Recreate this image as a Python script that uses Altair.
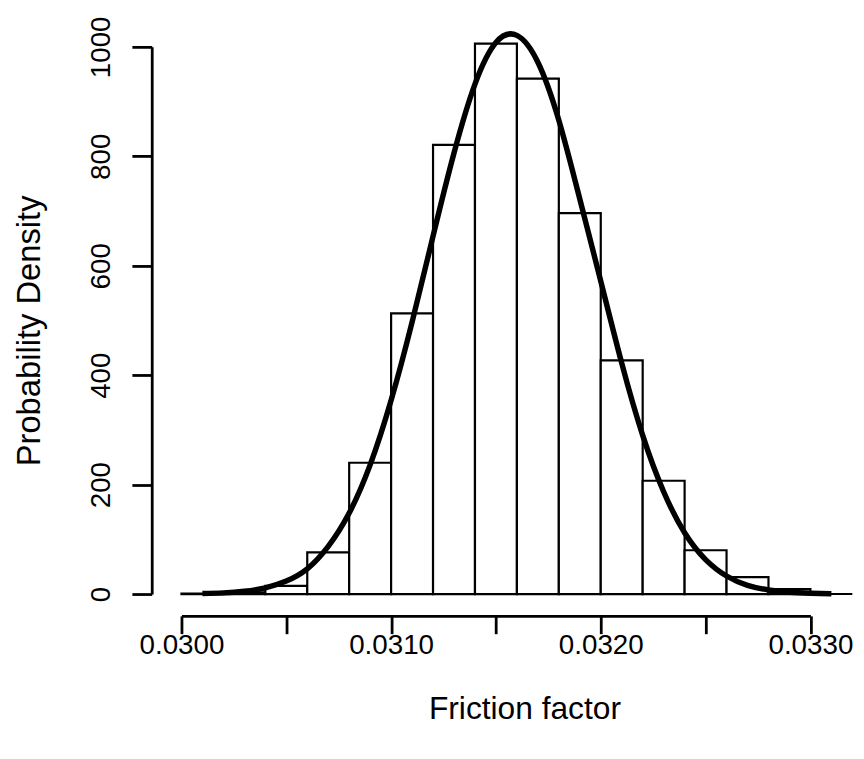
import altair as alt
import pandas as pd

# Histogram (probability density per bin of width 0.0002)
bin_start = [0.0300, 0.0302, 0.0304, 0.0306, 0.0308, 0.0310, 0.0312, 0.0314,
             0.0316, 0.0318, 0.0320, 0.0322, 0.0324, 0.0326, 0.0328]
bin_width = 0.0002
density = [1, 3, 15, 76, 240, 513, 821, 1006, 942, 696, 427, 207, 80, 31, 9]

# Fitted density curve
curve_x = [0.0301, 0.0302, 0.0303, 0.0304, 0.0305, 0.0306, 0.0307, 0.0308,
           0.0309, 0.0310, 0.0311, 0.0312, 0.0313, 0.0314, 0.0315, 0.0316,
           0.0317, 0.0318, 0.0319, 0.0320, 0.0321, 0.0322, 0.0323, 0.0324,
           0.0325, 0.0326, 0.0327, 0.0328, 0.0329, 0.0330, 0.0331]
curve_y = [0.8, 2.1, 5.1, 11.4, 23.7, 46, 87, 148, 236, 354, 497, 654, 806,
           932, 1008, 1021, 972, 866, 722, 572, 422, 290, 187, 112, 63, 33,
           16, 7.5, 3.2, 1.3, 0.4]

x_ticks = [0.0300, 0.0305, 0.0310, 0.0315, 0.0320, 0.0325, 0.0330]
y_ticks = [0, 200, 400, 600, 800, 1000]

FONT = "Liberation Sans"

hist_df = pd.DataFrame({
    "start": bin_start,
    "end": [s + bin_width for s in bin_start],
    "density": density,
    "zero": [0] * len(bin_start),
})
curve_df = pd.DataFrame({"x": curve_x, "y": curve_y})
base_df = pd.DataFrame({"x": [0.0300], "x2": [0.0332], "y": [0]})

xscale = alt.Scale(domain=[0.0300, 0.0330], nice=False, zero=False)
yscale = alt.Scale(domain=[0, 1000], nice=False)

bars = alt.Chart(hist_df).mark_rect(
    fill="white", stroke="black", strokeWidth=2.2
).encode(
    x=alt.X("start:Q", scale=xscale,
            axis=alt.Axis(values=x_ticks, offset=22, tickSize=18,
                          labelExpr="abs(datum.value*1000 - round(datum.value*1000)) < 1e-6 ? format(datum.value, '.4f') : ''",
                          labelFontSize=28, labelBaseline="alphabetic",
                          labelPadding=20, labelFlush=False, labelOverlap=False,
                          title="Friction factor", titleFontSize=32,
                          titleFontWeight="normal", titleBaseline="alphabetic",
                          titleX=346, titleY=104, titleAlign="center")),
    x2="end:Q",
    y=alt.Y("density:Q", scale=yscale,
            axis=alt.Axis(values=y_ticks, offset=30, tickSize=20, format="d",
                          labelAngle=270, labelAlign="center",
                          labelBaseline="alphabetic", labelPadding=23,
                          labelFontSize=28, labelFlush=False, labelOverlap=False,
                          title="Probability Density", titleFontSize=33,
                          titleFontWeight="normal", titleAngle=270,
                          titleBaseline="alphabetic", titleAlign="center",
                          titleX=-113, titleY=286)),
    y2="zero:Q",
)

curve = alt.Chart(curve_df).mark_line(
    color="black", strokeWidth=5.5, interpolate="natural"
).encode(x=alt.X("x:Q", scale=xscale), y=alt.Y("y:Q", scale=yscale))

baseline = alt.Chart(base_df).mark_rule(color="black", strokeWidth=2).encode(
    x=alt.X("x:Q", scale=xscale), x2="x2:Q", y=alt.Y("y:Q", scale=yscale)
)

chart = alt.layer(bars, curve, baseline).properties(
    width=634.5, height=552,
    autosize=alt.AutoSizeParams(type="none"),
    padding={"left": 175, "top": 36, "right": 46, "bottom": 140},
    background="white",
).configure_view(stroke=None).configure_axis(
    grid=False, domainColor="black", domainWidth=2.8, tickColor="black",
    tickWidth=2.8, labelColor="black", titleColor="black",
    labelFont=FONT, titleFont=FONT,
)

chart.save("out.html", embed_options={"renderer": "svg", "actions": False})
